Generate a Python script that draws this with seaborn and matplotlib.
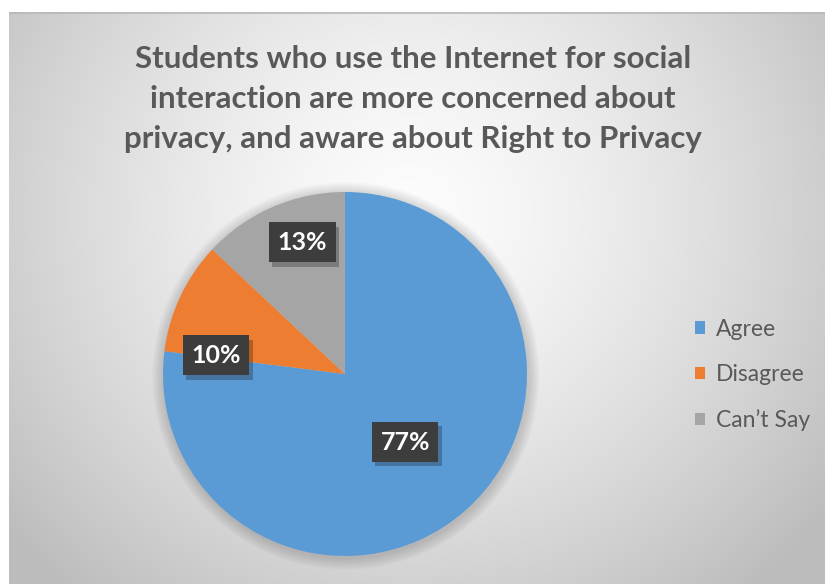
import numpy as np
import matplotlib
matplotlib.use("Agg")
import matplotlib.pyplot as plt
from matplotlib.patches import Rectangle, Circle
import matplotlib.patheffects as pe
import seaborn as sns

# ---- data ----
categories = ["Agree", "Disagree", "Can\u2019t Say"]
values = [77, 10, 13]
pct_labels = ["77%", "10%", "13%"]
colors = ["#5B9BD5", "#ED7D31", "#A5A5A5"]
title = ("Students who use the Internet for social\n"
         "interaction are more concerned about\n"
         "privacy, and aware about Right to Privacy")

# label placement style (angle shift in degrees from wedge middle, radius fraction)
label_shift = [0.0, 17.0, -5.4]
label_radius = [0.50, 0.715, 0.76]

sns.set_theme(style="white")
plt.rcParams["font.family"] = ["Lato", "DejaVu Sans"]

W, H = 825, 584
fig = plt.figure(figsize=(W / 100, H / 100), dpi=100)
fig.patch.set_facecolor("white")

# ---- background panel with radial gradient ----
px0, py0 = 9, 12
pw, ph = W - px0, H - py0
bg = fig.add_axes([px0 / W, 0, pw / W, ph / H])
yy, xx = np.mgrid[0:ph, 0:pw]
cx, cy = 400, 200
d = np.sqrt((xx - cx) ** 2 + ((yy - cy) * 1.05) ** 2) / 520.0
val = np.clip(0.99 - 0.25 * d ** 1.4, 0.74, 1.0)
img = np.dstack([val, val, val])
bg.imshow(img, extent=[0, pw, ph, 0], aspect="auto", interpolation="bilinear")
bg.plot([0, pw], [0.5, 0.5], color="#b8b8b8", lw=1.2)
bg.set_xlim(0, pw)
bg.set_ylim(ph, 0)
bg.axis("off")

# ---- pie ----
cxp, cyp, r = 345, 374, 182
ax = fig.add_axes([(cxp - 1.1 * r) / W, 1 - (cyp + 1.1 * r) / H, 2.2 * r / W, 2.2 * r / H])
ax.set_facecolor("none")
# soft shadow halo behind the pie
for k in range(8):
    ax.add_patch(Circle((0.005, -0.01), 1.0 + 0.008 * (k + 1), fc=(0, 0, 0, 0.018),
                        ec="none", zorder=0))
wedges, _ = ax.pie(values, colors=colors, startangle=90, counterclock=False,
                   radius=1.0, wedgeprops=dict(linewidth=0, zorder=1))
ax.set_xlim(-1.1, 1.1)
ax.set_ylim(-1.1, 1.1)
ax.set_aspect("equal")
ax.axis("off")

for w, lab, sh, rr in zip(wedges, pct_labels, label_shift, label_radius):
    mid = np.deg2rad((w.theta1 + w.theta2) / 2 + sh)
    x, y = rr * np.cos(mid), rr * np.sin(mid)
    t = ax.text(x, y, lab, ha="center", va="center", fontsize=18, fontweight="bold",
                color="white", zorder=5,
                bbox=dict(boxstyle="square,pad=0.34", fc="#3d3d3d", ec="none"))
    t.get_bbox_patch().set_path_effects(
        [pe.SimplePatchShadow(offset=(2.5, -3), shadow_rgbFace="black", alpha=0.25),
         pe.Normal()])

# ---- title ----
fig.text(413 / W, 1 - 99 / H, title, ha="center", va="center",
         multialignment="center", fontsize=22.5, fontweight="bold",
         color="#595959", linespacing=1.5)

# ---- legend ----
handles = [Rectangle((0, 0), 1, 1, fc=c, ec="none") for c in colors]
leg = fig.legend(handles, categories, loc="center left",
                 bbox_to_anchor=(686 / W, 1 - 375 / H), frameon=False,
                 fontsize=16.5, labelspacing=1.07, handlelength=0.45,
                 handleheight=0.45, handletextpad=0.45, borderaxespad=0)
for t in leg.get_texts():
    t.set_color("#595959")

fig.savefig("out.png", dpi=100)
